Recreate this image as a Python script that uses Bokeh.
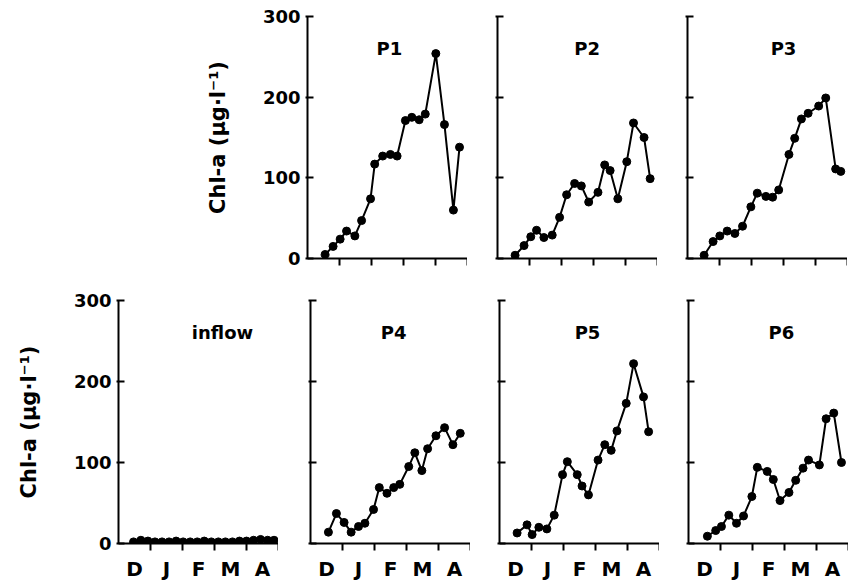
from bokeh.plotting import figure
from bokeh.layouts import column, row
from bokeh.models import Range1d, FixedTicker, Label
from bokeh.embed import file_html
from bokeh.resources import INLINE

# x = months since 1 December (D, J, F, M, A)
month_labels = ["D", "J", "F", "M", "A"]
month_centers = [0.5, 1.5, 2.5, 3.5, 4.5]
month_bounds = [1, 2, 3, 4, 5]
y_ticks = [0, 100, 200, 300]
y_title = "Chl-a (\u03bcg\u00b7l\u207b\u00b9)"

p1_x = [0.55, 0.80, 1.02, 1.22, 1.48, 1.69, 1.97, 2.10, 2.35, 2.59, 2.80, 3.06, 3.26, 3.49, 3.68, 4.01, 4.28, 4.56, 4.75]
p1_y = [5, 15, 24, 34, 28, 47, 74, 117, 127, 129, 127, 171, 175, 172, 179, 254, 166, 60, 138]

p2_x = [0.55, 0.83, 1.04, 1.22, 1.45, 1.71, 1.94, 2.16, 2.41, 2.62, 2.85, 3.14, 3.35, 3.52, 3.76, 4.04, 4.25, 4.58, 4.77]
p2_y = [4, 16, 27, 35, 26, 29, 51, 79, 93, 90, 70, 82, 116, 109, 74, 120, 168, 150, 99]

p3_x = [0.52, 0.80, 1.01, 1.24, 1.48, 1.72, 1.98, 2.18, 2.45, 2.66, 2.85, 3.17, 3.35, 3.56, 3.77, 4.10, 4.32, 4.63, 4.79]
p3_y = [4, 21, 28, 34, 31, 40, 64, 81, 77, 76, 85, 129, 149, 173, 180, 189, 199, 111, 108]

inflow_x = [0.47, 0.70, 0.92, 1.14, 1.36, 1.58, 1.80, 2.02, 2.24, 2.46, 2.68, 2.90, 3.12, 3.34, 3.56, 3.78, 4.00, 4.22, 4.44, 4.66, 4.86]
inflow_y = [2, 4, 3, 2, 2, 2, 3, 2, 2, 2, 3, 2, 2, 2, 2, 3, 3, 4, 5, 4, 4]

p4_x = [0.56, 0.81, 1.05, 1.27, 1.50, 1.70, 1.97, 2.15, 2.39, 2.60, 2.79, 3.07, 3.26, 3.48, 3.66, 3.92, 4.19, 4.45, 4.68]
p4_y = [14, 37, 26, 14, 21, 25, 42, 69, 62, 69, 73, 95, 112, 90, 117, 133, 143, 122, 136]

p5_x = [0.55, 0.86, 1.02, 1.23, 1.48, 1.71, 1.97, 2.12, 2.43, 2.58, 2.78, 3.08, 3.29, 3.49, 3.67, 3.96, 4.19, 4.50, 4.66]
p5_y = [13, 23, 11, 20, 18, 35, 85, 101, 85, 71, 60, 103, 122, 115, 139, 173, 222, 181, 138]

p6_x = [0.59, 0.85, 1.03, 1.26, 1.50, 1.72, 1.98, 2.15, 2.46, 2.65, 2.86, 3.14, 3.35, 3.58, 3.75, 4.09, 4.30, 4.54, 4.78]
p6_y = [9, 16, 21, 35, 25, 34, 58, 94, 89, 79, 53, 63, 78, 93, 103, 97, 154, 161, 100]

FONT = "DejaVu Sans"
FRAME_W = 160


def make_panel(name, xs, ys, title_x, border_left, frame_h, border_top, border_bottom,
               show_ylab, show_xlab):
    p = figure(width=border_left + FRAME_W, height=border_top + frame_h + border_bottom,
               x_range=Range1d(0, 5), y_range=Range1d(0, 300),
               output_backend="svg", toolbar_location=None,
               min_border_left=border_left, min_border_right=0,
               min_border_top=border_top, min_border_bottom=border_bottom)
    p.outline_line_color = None
    p.grid.visible = False
    p.background_fill_color = "white"
    p.border_fill_color = "white"

    xa = p.xaxis[0]
    xa.ticker = FixedTicker(ticks=month_centers, minor_ticks=month_bounds)
    xa.major_tick_line_color = None
    xa.major_tick_out = 4
    xa.major_tick_in = 0
    xa.minor_tick_line_color = "black"
    xa.minor_tick_line_width = 2
    xa.minor_tick_out = 7
    xa.minor_tick_in = 0
    xa.axis_line_width = 2
    xa.axis_line_color = "black"
    xa.major_label_text_font = FONT
    xa.major_label_text_font_style = "bold"
    xa.major_label_text_color = "black"
    if show_xlab:
        xa.major_label_overrides = {c: m for c, m in zip(month_centers, month_labels)}
        xa.major_label_text_font_size = "20px"
        xa.major_label_standoff = 6
    else:
        xa.major_label_overrides = {c: "" for c in month_centers}
        xa.major_label_text_font_size = "6px"
        xa.major_label_standoff = 0

    ya = p.yaxis[0]
    ya.ticker = FixedTicker(ticks=y_ticks, minor_ticks=[])
    ya.major_tick_line_width = 2
    ya.major_tick_line_color = "black"
    ya.major_tick_in = 6
    ya.major_tick_out = 2
    ya.axis_line_width = 2
    ya.axis_line_color = "black"
    ya.major_label_standoff = 5
    ya.major_label_text_font = FONT
    ya.major_label_text_font_style = "bold"
    ya.major_label_text_color = "black"
    if show_ylab:
        ya.major_label_text_font_size = "18px"
        ya.axis_label = y_title
        ya.axis_label_text_font = FONT
        ya.axis_label_text_font_style = "bold"
        ya.axis_label_text_font_size = "21px"
        ya.axis_label_text_color = "black"
        ya.axis_label_standoff = 30
    else:
        ya.major_label_overrides = {t: "" for t in y_ticks}
        ya.major_label_text_font_size = "6px"
        ya.major_label_standoff = 0

    p.line(xs, ys, line_color="black", line_width=2)
    p.scatter(xs, ys, size=8, fill_color="black", line_color="black")

    p.add_layout(Label(x=title_x, y=260, text=name, text_align="center",
                       text_baseline="middle", text_font=FONT,
                       text_font_style="bold", text_font_size="18px",
                       text_color="black"))
    return p


top = row(
    make_panel("P1", p1_x, p1_y, 2.56, 307, 242, 16, 20, True, False),
    make_panel("P2", p2_x, p2_y, 2.8, 30, 242, 16, 20, False, False),
    make_panel("P3", p3_x, p3_y, 3.0, 30, 242, 16, 20, False, False),
)
bottom = row(
    make_panel("inflow", inflow_x, inflow_y, 3.25, 118, 248, 22, 35, True, True),
    make_panel("P4", p4_x, p4_y, 2.6, 32, 248, 22, 35, False, True),
    make_panel("P5", p5_x, p5_y, 2.75, 29, 248, 22, 35, False, True),
    make_panel("P6", p6_x, p6_y, 2.9, 29, 248, 22, 35, False, True),
)
layout = column(top, bottom)

open("out.html", "w").write(file_html(layout, INLINE))
